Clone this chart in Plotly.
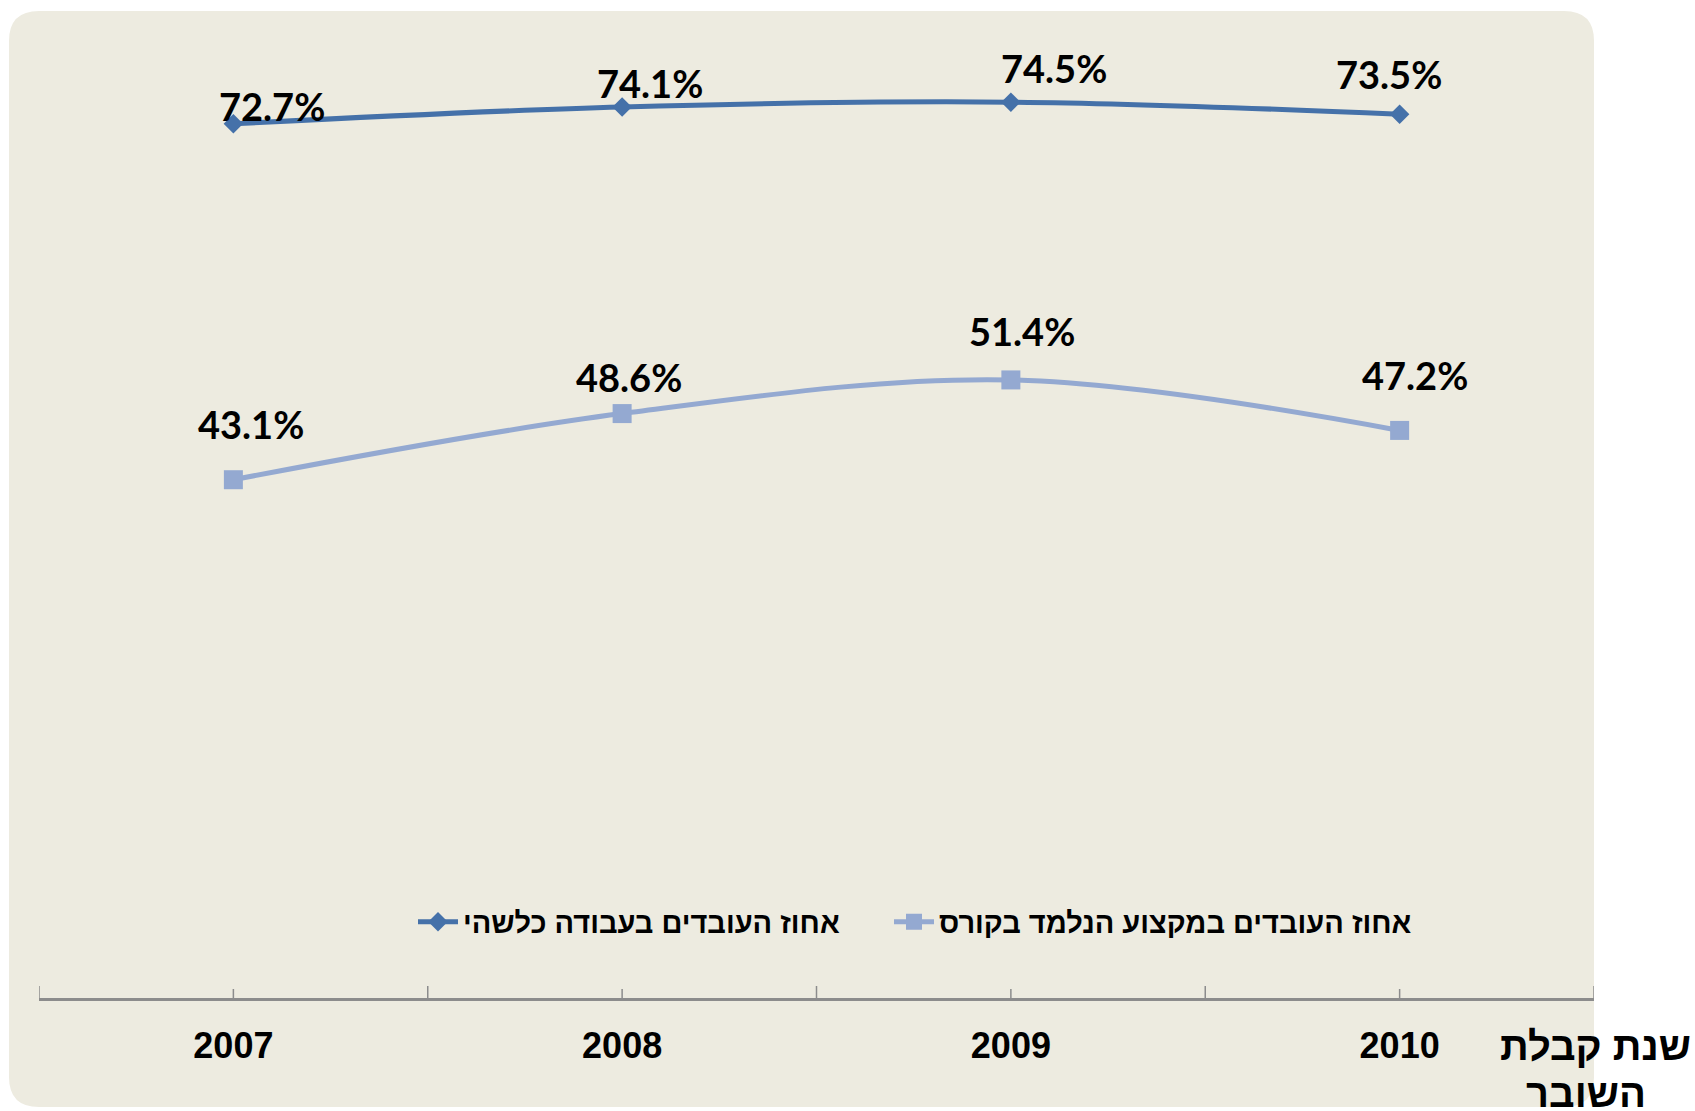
import plotly.graph_objects as go

years = ["2007", "2008", "2009", "2010"]
any_work = [72.7, 74.1, 74.5, 73.5]
in_profession = [43.1, 48.6, 51.4, 47.2]
name_any = "אחוז העובדים בעבודה כלשהי"
name_prof = "אחוז העובדים במקצוע הנלמד בקורס"
axis_title_lines = ["שנת קבלת", "השובר"]

W, H = 1695, 1111
L, R, T, B = 39, 1594, 36, 998  # plot area in page pixels
DARK = "#4571A9"
LIGHT = "#94A9D1"
BG = "#EDEBE0"
AXIS = "#8C8C8C"

def fx(p):  # page px -> paper
    return (p - L) / (R - L)

def fy(p):
    return (B - p) / (B - T)

fig = go.Figure()
fig.add_trace(go.Scatter(
    x=years, y=any_work, name=name_any, mode="lines+markers", legend="legend",
    line=dict(color=DARK, width=5, shape="spline"),
    marker=dict(symbol="diamond", size=15, color=DARK),
))
fig.add_trace(go.Scatter(
    x=years, y=in_profession, name=name_prof, mode="lines+markers", legend="legend2",
    line=dict(color=LIGHT, width=5, shape="spline"),
    marker=dict(symbol="square", size=19, color=LIGHT),
))

# rounded background (page px)
x0, x1, y0, y1, r = 9, 1594, 11, 1107, 30
pts = [
    ("M", x0 + r, y0), ("L", x1 - r, y0), ("Q", x1, y0, x1, y0 + r),
    ("L", x1, y1 - r), ("Q", x1, y1, x1 - r, y1), ("L", x0 + r, y1),
    ("Q", x0, y1, x0, y1 - r), ("L", x0, y0 + r), ("Q", x0, y0, x0 + r, y0),
]
path = ""
for p in pts:
    coords = p[1:]
    s = [f"{fx(coords[i]):.5f},{fy(coords[i+1]):.5f}" for i in range(0, len(coords), 2)]
    path += p[0] + " ".join(s) + " "
path += "Z"
shapes = [dict(type="path", xref="paper", yref="paper", path=path,
               fillcolor=BG, line=dict(width=0), layer="below")]

# ticks crossing the axis
for b in [-0.5, 0.5, 1.5, 2.5, 3.5]:
    shapes.append(dict(type="line", xref="x", yref="y", x0=b, x1=b,
                       ysizemode="pixel", yanchor=0, y0=-12, y1=12,
                       line=dict(color=AXIS, width=1.5)))
for c in range(len(years)):
    shapes.append(dict(type="line", xref="x", yref="y", x0=c, x1=c,
                       ysizemode="pixel", yanchor=0, y0=-9, y1=9,
                       line=dict(color=AXIS, width=1.5)))

label_font = dict(family="Lato", size=38, color="black", weight="bold")
dark_shift = [(39, 18), (28, 24), (43, 34), (-11, 40)]
light_shift = [(18, 56), (7, 37), (11, 49), (15, 55)]
annotations = []
for i, yv in enumerate(any_work):
    annotations.append(dict(x=i, y=yv, xref="x", yref="y", text=f"{yv:.1f}%", showarrow=False,
                            xshift=dark_shift[i][0], yshift=dark_shift[i][1], font=label_font))
for i, yv in enumerate(in_profession):
    annotations.append(dict(x=i, y=yv, xref="x", yref="y", text=f"{yv:.1f}%", showarrow=False,
                            xshift=light_shift[i][0], yshift=light_shift[i][1], font=label_font))
title_font = dict(family="Liberation Sans", size=40, color="black", weight="bold")
for txt, (cx, cy) in zip(axis_title_lines, [(1595, 1046), (1586, 1093)]):
    annotations.append(dict(xref="paper", yref="paper", x=fx(cx), y=fy(cy), text=txt,
                            showarrow=False, xanchor="center", yanchor="middle", font=title_font))

legend_common = dict(orientation="h", xanchor="left", yanchor="middle",
                     font=dict(family="Liberation Sans", size=29, color="black", weight="bold"),
                     bgcolor="rgba(0,0,0,0)", itemwidth=40)

fig.update_layout(
    width=W, height=H,
    margin=dict(l=L, r=W - R, t=T, b=H - B, pad=0),
    paper_bgcolor="white", plot_bgcolor="rgba(0,0,0,0)",
    shapes=shapes, annotations=annotations,
    showlegend=True,
    legend=dict(x=fx(413), y=fy(922), **legend_common),
    legend2=dict(x=fx(889), y=fy(922), **legend_common),
    xaxis=dict(type="category", range=[-0.5, 3.5], showgrid=False, zeroline=False,
               showline=True, linecolor=AXIS, linewidth=3, ticks="",
               tickfont=dict(family="Liberation Sans", size=36,
                             color="black", weight="bold"),
               ticklabelstandoff=14),
    yaxis=dict(range=[0, 80], visible=False, showgrid=False, zeroline=False),
)

fig.write_html("out.html", config={"displayModeBar": False},
               post_script="document.body.style.margin='0';")
